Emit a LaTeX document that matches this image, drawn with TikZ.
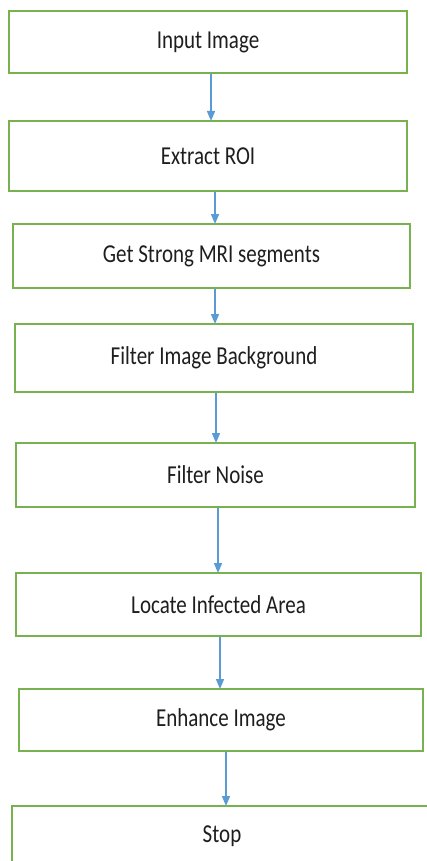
\documentclass[tikz,border=0pt]{standalone}
\usepackage{fontspec}
\setmainfont{Carlito}
\usetikzlibrary{arrows.meta}
\definecolor{boxgreen}{RGB}{120,178,80}
\definecolor{arrblue}{RGB}{91,155,213}
\definecolor{txt}{RGB}{30,30,30}
\newcommand{\bt}[1]{\scalebox{1}[1.23]{#1}}
\tikzset{
  stepbox/.style={draw=boxgreen, line width=2pt, fill=white, rectangle, inner sep=0pt,
    text=txt, font=\fontsize{21}{25}\selectfont},
  arr/.style={draw=arrblue, line width=1.4pt, -{Triangle[width=8pt,length=10pt]}, shorten >=-1pt}
}
\begin{document}
\begin{tikzpicture}[x=1pt,y=-1pt]
\useasboundingbox (0,0) rectangle (427,861);
\fill[white] (0,0) rectangle (427,861);
\begin{scope}
\clip (0,0) rectangle (427,861);
\node[stepbox, minimum width=398pt, minimum height=62pt] (b1) at (208,42) {\bt{Input Image}};
\node[stepbox, minimum width=398pt, minimum height=70pt] (b2) at (208,156) {\bt{Extract ROI}};
\node[stepbox, minimum width=397pt, minimum height=64pt] (b3) at (211.5,256) {\bt{Get Strong MRI segments}};
\node[stepbox, minimum width=398pt, minimum height=68pt] (b4) at (214,358) {\bt{Filter Image Background}};
\node[stepbox, minimum width=399pt, minimum height=64pt] (b5) at (215.5,475) {\bt{Filter Noise}};
\node[stepbox, minimum width=405pt, minimum height=63pt] (b6) at (218.5,604.5) {\bt{Locate Infected Area}};
\node[stepbox, minimum width=404pt, minimum height=62pt] (b7) at (221,720) {\bt{Enhance Image}};
\node[stepbox, minimum width=420pt, minimum height=60pt] (b8) at (222,836) {\bt{Stop}};
\draw[arr] ([xshift=3pt]b1.south) -- ([xshift=3pt]b1.south |- b2.north);
\draw[arr] ([xshift=7pt]b2.south) -- ([xshift=7pt]b2.south |- b3.north);
\draw[arr] ([xshift=3.5pt]b3.south) -- ([xshift=3.5pt]b3.south |- b4.north);
\draw[arr] ([xshift=2pt]b4.south) -- ([xshift=2pt]b4.south |- b5.north);
\draw[arr] ([xshift=2.5pt]b5.south) -- ([xshift=2.5pt]b5.south |- b6.north);
\draw[arr] ([xshift=1.5pt]b6.south) -- ([xshift=1.5pt]b6.south |- b7.north);
\draw[arr] ([xshift=5pt]b7.south) -- ([xshift=5pt]b7.south |- b8.north);
\end{scope}
\end{tikzpicture}
\end{document}
